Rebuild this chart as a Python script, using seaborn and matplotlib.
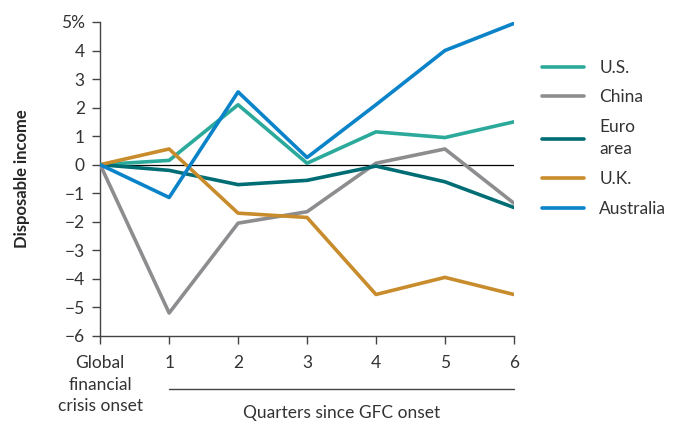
import pandas as pd
import numpy as np
import matplotlib.pyplot as plt
import seaborn as sns

sns.set_style("ticks")
plt.rcParams['font.family'] = ['Lato', 'DejaVu Sans']

quarters = [0, 1, 2, 3, 4, 5, 6]
us = [0, 0.15, 2.1, 0.05, 1.15, 0.95, 1.5]
china = [0, -5.2, -2.05, -1.65, 0.05, 0.55, -1.35]
euro = [0, -0.2, -0.7, -0.55, -0.05, -0.6, -1.5]
uk = [0, 0.55, -1.7, -1.85, -4.55, -3.95, -4.55]
australia = [0, -1.15, 2.55, 0.25, 2.1, 4.0, 4.95]

series = ["U.S.", "China", "Euro\narea", "U.K.", "Australia"]
colors = ["#2ba99b", "#8d8d8f", "#006d75", "#c98c2c", "#0a83c9"]
x_labels = ["Global\nfinancial\ncrisis onset", "1", "2", "3", "4", "5", "6"]
y_ticks = [5, 4, 3, 2, 1, 0, -1, -2, -3, -4, -5, -6]

df = pd.DataFrame({
    "quarter": quarters * 5,
    "value": us + china + euro + uk + australia,
    "series": np.repeat(series, len(quarters)),
})

fs = 12.5
fig = plt.figure(figsize=(6.77, 4.23), dpi=100)
ax = fig.add_axes([0.148, 0.206, 0.611, 0.742])

ax.axhline(0, color="black", lw=0.9, zorder=1)
sns.lineplot(data=df, x="quarter", y="value", hue="series", hue_order=series,
             palette=colors, lw=2.6, ax=ax, legend=True, zorder=3)

ax.set_xlim(0, 6)
ax.set_ylim(-6, 5)
ax.set_xticks(quarters)
ax.set_xticklabels(x_labels, fontsize=fs, color="#333333", linespacing=1.4)
ax.set_yticks(y_ticks)
ax.set_yticklabels(["5%"] + [f"{v:g}".replace("-", "\u2212") for v in y_ticks[1:]],
                   fontsize=fs, color="#333333")
ax.tick_params(axis="both", length=6, width=1, color="#444444", pad=5)
ax.tick_params(axis="x", pad=8)
ax.set_xlabel("")
ax.set_ylabel("Disposable income", fontsize=12, fontweight="bold", labelpad=22)
sns.despine(ax=ax)
for s in ["left", "bottom"]:
    ax.spines[s].set_color("#444444")
    ax.spines[s].set_linewidth(1)

# bracket line and label for the quarter axis
ax.plot([1, 6], [-7.85, -7.85], color="#444444", lw=1, clip_on=False)
ax.text(3.5, -8.7, "Quarters since GFC onset", ha="center", va="center",
        fontsize=fs, color="#333333")

handles, labels = ax.get_legend_handles_labels()
leg = ax.legend(handles, labels, loc="upper left", bbox_to_anchor=(1.03, 0.93),
                frameon=False, fontsize=fs, handlelength=2.4, handletextpad=0.9,
                labelspacing=0.8, labelcolor="#333333")
for line in leg.get_lines():
    line.set_linewidth(2.6)
for t in leg.get_texts():
    t.set_linespacing(1.45)

fig.savefig("out.png", dpi=100)
